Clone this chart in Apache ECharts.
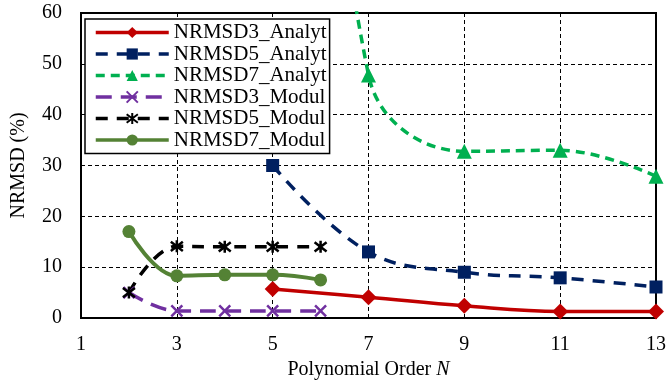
<!DOCTYPE html>
<html>
<head>
<meta charset="utf-8">
<script src="https://cdn.jsdelivr.net/npm/echarts@6/dist/echarts.min.js"></script>
<style>
  html, body { margin: 0; padding: 0; background: #fff; }
  #chart { width: 669px; height: 386px; }
</style>
</head>
<body>
<div id="chart"></div>
<script>
// values, [order N, NRMSD %]
const nrmsd3Analyt = [[5, 5.7], [7, 4.1], [9, 2.4], [11, 1.3], [13, 1.3]]
const nrmsd5Analyt = [[5, 30], [7, 13], [9, 9], [11, 7.9], [13, 6.1]]
// first point lies above the 60 % limit, only its line is seen
const nrmsd7Analyt = [[5, 220], [7, 47.8], [9, 32.8], [11, 33], [13, 27.9]]
const nrmsd3Modul = [[2, 5], [3, 1.4], [4, 1.4], [5, 1.4], [6, 1.4]]
const nrmsd5Modul = [[2, 5], [3, 14.1], [4, 14], [5, 14], [6, 14]]
const nrmsd7Modul = [[2, 17], [3, 8.3], [4, 8.5], [5, 8.5], [6, 7.5]]

const font = 'Liberation Serif'
const crossPath = 'path://M0,0L10,10M10,0L0,10'
const starPath = 'path://M0,0L10,10M10,0L0,10M5,-1.5L5,11.5'

function makeSeries(name, data, color, type, symbol, size, width, extra) {
  return Object.assign({
    name: name,
    type: 'line',
    data: data,
    smooth: 0.4,
    symbol: symbol,
    symbolSize: size,
    lineStyle: { color: color, width: width, type: type },
    itemStyle: { color: color, borderColor: color, borderWidth: 0 }
  }, extra || {})
}

const chart = echarts.init(document.getElementById('chart'))
chart.setOption({
  animation: false,
  textStyle: { fontFamily: font },
  grid: {
    left: 81, right: 9, top: 13, bottom: 68,
    show: true,
    borderColor: '#000',
    borderWidth: 2
  },
  legend: {
    orient: 'vertical',
    left: 85,
    top: 19,
    itemWidth: 73,
    itemHeight: 14,
    itemGap: 0.5,
    padding: [3, 3, 3, 9],
    backgroundColor: '#fff',
    borderColor: '#000',
    borderWidth: 1.5,
    lineStyle: { width: 3.5 },
    textStyle: { fontFamily: font, fontSize: 21, color: '#000', lineHeight: 21 }
  },
  xAxis: {
    type: 'value',
    min: 1,
    max: 13,
    interval: 2,
    name: 'Polynomial Order {i|N}',
    nameLocation: 'middle',
    nameGap: 41,
    nameTextStyle: {
      fontFamily: font, fontSize: 20, color: '#000',
      rich: { i: { fontFamily: font, fontSize: 20, fontStyle: 'italic', color: '#000' } }
    },
    axisLine: { lineStyle: { color: '#000', width: 2 } },
    axisTick: { show: false },
    axisLabel: { color: '#000', fontSize: 20, fontFamily: font, margin: 17 },
    splitLine: { lineStyle: { color: '#000', type: [4, 3], width: 1 } }
  },
  yAxis: {
    type: 'value',
    min: 0,
    max: 60,
    interval: 10,
    name: 'NRMSD (%)',
    nameLocation: 'middle',
    nameGap: 52,
    nameTextStyle: { fontFamily: font, fontSize: 20, color: '#000' },
    axisLine: { show: true, lineStyle: { color: '#000', width: 2 } },
    axisTick: { show: false },
    axisLabel: { color: '#000', fontSize: 20, fontFamily: font, margin: 19 },
    splitLine: { lineStyle: { color: '#000', type: [4, 3], width: 1 } }
  },
  series: [
    makeSeries('NRMSD3_Analyt', nrmsd3Analyt, '#C00000', 'solid', 'diamond', 16, 3.5),
    makeSeries('NRMSD5_Analyt', nrmsd5Analyt, '#002060', [12, 9], 'rect', 13, 3.5),
    makeSeries('NRMSD7_Analyt', nrmsd7Analyt, '#00B050', [9, 6], 'triangle', 15, 3.5),
    makeSeries('NRMSD3_Modul', nrmsd3Modul, '#7030A0', [16, 9], crossPath, 11, 3.5, {
      itemStyle: { color: '#7030A0', borderColor: '#7030A0', borderWidth: 2.5 }
    }),
    makeSeries('NRMSD5_Modul', nrmsd5Modul, '#000000', [12, 9], starPath, 12, 3.5, {
      itemStyle: { color: '#000', borderColor: '#000', borderWidth: 2.5 }
    }),
    makeSeries('NRMSD7_Modul', nrmsd7Modul, '#548235', 'solid', 'circle', 13, 4)
  ]
})
</script>
</body>
</html>
